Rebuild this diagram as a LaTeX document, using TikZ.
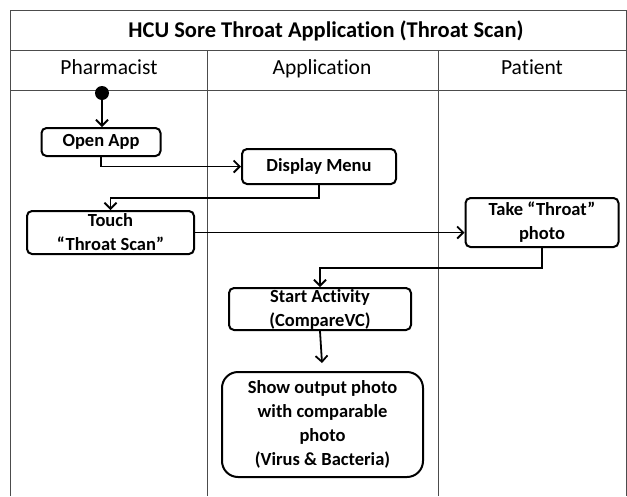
\documentclass[tikz,border=0pt]{standalone}
\usepackage{fontspec}
\setmainfont{Carlito}[Ligatures=NoCommon]
\usetikzlibrary{arrows.meta}
\tikzset{
  frame/.style={draw=black!70, line width=0.9pt},
  box/.style={draw=black, line width=2pt, rounded corners=5pt, align=center, inner sep=0pt,
    font=\fontsize{18.5}{24}\selectfont\bfseries},
  bigbox/.style={box, rounded corners=16pt},
  arr/.style={draw=black, line width=1.8pt, -{Straight Barb[length=6pt,width=12pt,line width=1.8pt]}},
  lbl/.style={inner sep=0pt, anchor=base},
}
\begin{document}
\begin{tikzpicture}[x=1pt,y=-1pt]
\useasboundingbox (0,0) rectangle (627,496);
% swimlane frame
\draw[frame] (10,496) -- (10,10) -- (626,10) -- (626,496);
\draw[frame] (10,50) -- (626,50);
\draw[frame] (10,90) -- (626,90);
\draw[frame] (207,50) -- (207,496);
\draw[frame] (438,50) -- (438,496);
\node[lbl, font=\fontsize{22.5}{26}\selectfont\bfseries] (title) at (326,37) {HCU Sore Throat Application (Throat Scan)};
\node[lbl, font=\fontsize{21.5}{26}\selectfont] (h1) at (109,74) {Pharmacist};
\node[lbl, font=\fontsize{21.5}{26}\selectfont] (h2) at (322,74) {Application};
\node[lbl, font=\fontsize{21.5}{26}\selectfont] (h3) at (532,74) {Patient};
% nodes
\node[circle, fill=black, minimum size=14pt, inner sep=0pt] (start) at (102,93) {};
\node[box, minimum width=119pt, minimum height=28pt] (open) at (101,142) {Open App};
\node[box, minimum width=154pt, minimum height=35pt] (disp) at (319,166.5) {Display Menu};
\node[box, minimum width=167pt, minimum height=43pt] (touch) at (110.5,232.5) {Touch\\“Throat Scan”};
\node[box, minimum width=153pt, minimum height=49pt] (take) at (542,222.5) {Take “Throat”\\photo};
\node[box, minimum width=182pt, minimum height=42pt] (act) at (320,309) {Start Activity\\(CompareVC)};
\node[bigbox, minimum width=201pt, minimum height=105pt] (show) at (322.5,424.5) {Show output photo\\with comparable\\photo\\(Virus \& Bacteria)};
% connectors
\draw[arr] (start) -- (start |- open.north);
\draw[arr] (open.south) |- (disp.west);
\draw[arr] (disp.south) -- ++(0,13) -| (touch.north);
\draw[arr] (touch.east) -- (touch.east -| take.west);
\draw[arr] (take.south) -- ++(0,20) -| (act.north);
\draw[arr, shorten >=8pt] (act.south) -- (show.north);
\end{tikzpicture}
\end{document}
